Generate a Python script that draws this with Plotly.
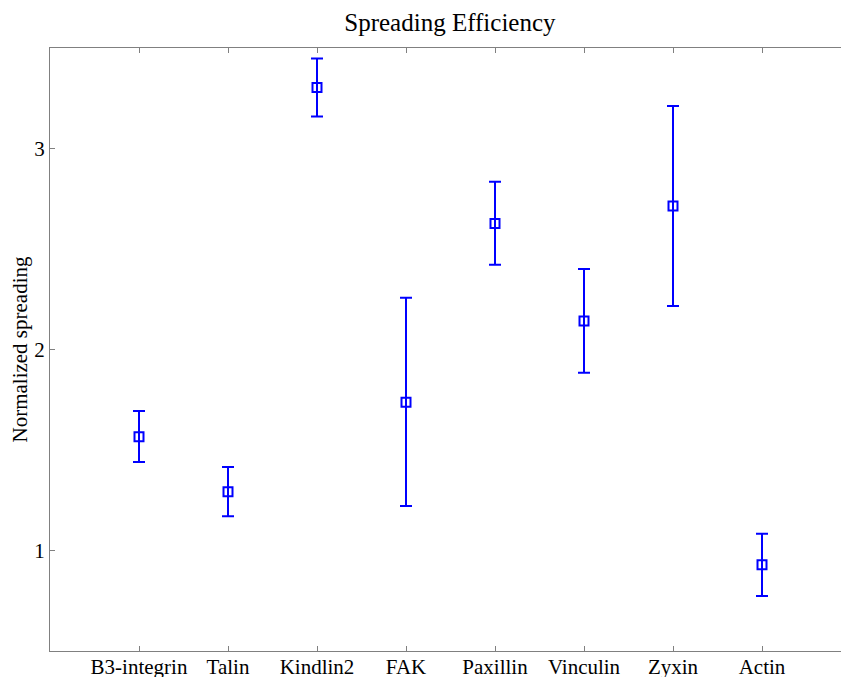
import plotly.graph_objects as go

# Spreading efficiency per protein (mean with error)
proteins = ["B3-integrin", "Talin", "Kindlin2", "FAK", "Paxillin", "Vinculin", "Zyxin", "Actin"]
spreading = [1.566, 1.292, 3.303, 1.737, 2.627, 2.142, 2.714, 0.929]
err_upper = [0.128, 0.123, 0.145, 0.520, 0.207, 0.258, 0.497, 0.154]
err_lower = [0.126, 0.121, 0.144, 0.515, 0.205, 0.258, 0.497, 0.155]
y_ticks = [1, 2, 3]

positions = list(range(1, len(proteins) + 1))
BLUE = "#0000ff"
AXIS_GRAY = "#808080"
FONT = "Liberation Serif, Times New Roman, serif"

fig = go.Figure(
    go.Scatter(
        x=positions,
        y=spreading,
        mode="markers",
        marker=dict(symbol="square-open", size=9, color=BLUE, line=dict(width=2, color=BLUE)),
        error_y=dict(
            type="data",
            symmetric=False,
            array=err_upper,
            arrayminus=err_lower,
            color=BLUE,
            thickness=2,
            width=6,
        ),
        showlegend=False,
    )
)

fig.update_layout(
    width=841,
    height=677,
    margin=dict(l=50, r=0, t=48, b=26),
    paper_bgcolor="white",
    plot_bgcolor="white",
    font=dict(family=FONT, color="black", size=20),
    title=dict(
        text="Spreading Efficiency",
        x=0.535,
        xanchor="center",
        y=1 - 22 / 677,
        yanchor="middle",
        font=dict(family=FONT, size=25, color="black"),
    ),
)

fig.update_xaxes(
    range=[0, 791 / 89],
    automargin=False,
    tickmode="array",
    tickvals=positions,
    ticktext=proteins,
    ticks="inside",
    ticklen=5,
    ticklabelstandoff=-3,
    tickcolor=AXIS_GRAY,
    showline=True,
    linecolor=AXIS_GRAY,
    linewidth=1,
    mirror="ticks",
    showgrid=False,
    zeroline=False,
    tickfont=dict(family=FONT, size=21, color="black"),
)

fig.update_yaxes(
    range=[0.5, 3.5],
    automargin=False,
    tickmode="array",
    tickvals=y_ticks,
    ticktext=[str(v) for v in y_ticks],
    ticks="inside",
    ticklen=5,
    tickcolor=AXIS_GRAY,
    showline=True,
    linecolor=AXIS_GRAY,
    linewidth=1,
    showgrid=False,
    zeroline=False,
    tickfont=dict(family=FONT, size=21, color="black"),
    title=dict(text="Normalized spreading", font=dict(family=FONT, size=21, color="black"), standoff=0),
)

fig.write_html("out.html")
